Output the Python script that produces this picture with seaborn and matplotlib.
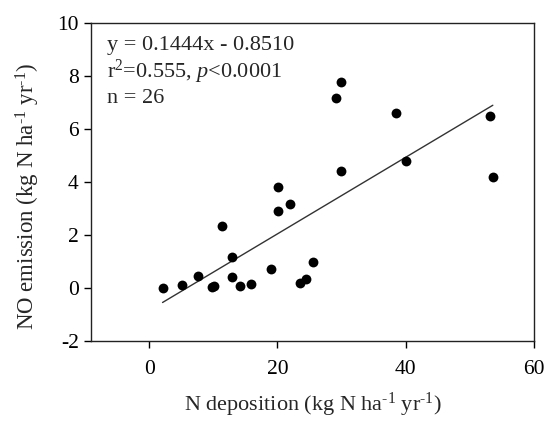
import numpy as np
import pandas as pd
import seaborn as sns
import matplotlib.pyplot as plt

# N deposition vs NO emission
n_dep = [2.1, 5.2, 7.6, 9.8, 10.1, 11.4, 13.0, 13.0, 14.2, 15.9, 19.0, 20.1,
         20.1, 22.0, 23.6, 24.4, 25.6, 29.2, 30.0, 30.0, 38.5, 40.1, 53.1, 53.6]
no_emis = [0.0, 0.11, 0.45, 0.05, 0.06, 2.35, 1.15, 0.42, 0.08, 0.16, 0.73, 3.82,
           2.91, 3.15, 0.20, 0.32, 0.98, 7.17, 7.76, 4.40, 6.59, 4.79, 6.50, 4.20]
slope = 0.1444
intercept = -0.8510
x_ticks = [0, 20, 40, 60]
y_ticks = [-2, 0, 2, 4, 6, 8, 10]

df = pd.DataFrame({"ndep": n_dep, "no": no_emis})

sns.set_style("ticks")
plt.rcParams["font.family"] = ["Liberation Serif", "DejaVu Serif"]
plt.rcParams["mathtext.fontset"] = "custom"
plt.rcParams["mathtext.rm"] = "Liberation Serif"
plt.rcParams["mathtext.it"] = "Liberation Serif:italic"
plt.rcParams["axes.unicode_minus"] = False

fig = plt.figure(figsize=(5.47, 4.21), dpi=100)
ax = fig.add_axes([0.167, 0.19, 0.809, 0.756])

sns.scatterplot(data=df, x="ndep", y="no", ax=ax, color="black", s=50,
                edgecolor="black", linewidth=0, zorder=3)

# fitted line across the data range
xl = np.array([min(n_dep), max(n_dep)])
sns.lineplot(x=xl, y=slope * xl + intercept, ax=ax, color="#333333", lw=1.0)

ax.set_xlim(-9, 60)
ax.set_ylim(-2, 10)
ax.set_xticks(x_ticks)
ax.set_yticks(y_ticks)
ax.tick_params(labelsize=15.5, direction="out", length=5, width=1, colors="black")
ax.tick_params(axis="x", pad=9)
ax.tick_params(axis="y", pad=4)
for sp in ax.spines.values():
    sp.set_visible(True)
    sp.set_linewidth(1.0)
    sp.set_color("#222222")

unit = " (kg N ha$^{\\text{-1}}$ yr$^{\\text{-1}}$)"
ax.set_xlabel("N deposition" + unit, fontsize=16)
ax.set_ylabel("NO emission" + unit, fontsize=16.5)
ax.xaxis.set_label_coords(0.5, -0.158)
ax.yaxis.set_label_coords(-0.112, 0.454)

ax.text(0.035, 0.93, "y = 0.1444x - 0.8510", transform=ax.transAxes, fontsize=16, va="center")
ax.text(0.035, 0.845, "r$^{2}$=0.555, $p$<0.0001", transform=ax.transAxes, fontsize=16, va="center")
ax.text(0.035, 0.763, "n = 26", transform=ax.transAxes, fontsize=16, va="center")

plt.savefig("out.png", dpi=100)
